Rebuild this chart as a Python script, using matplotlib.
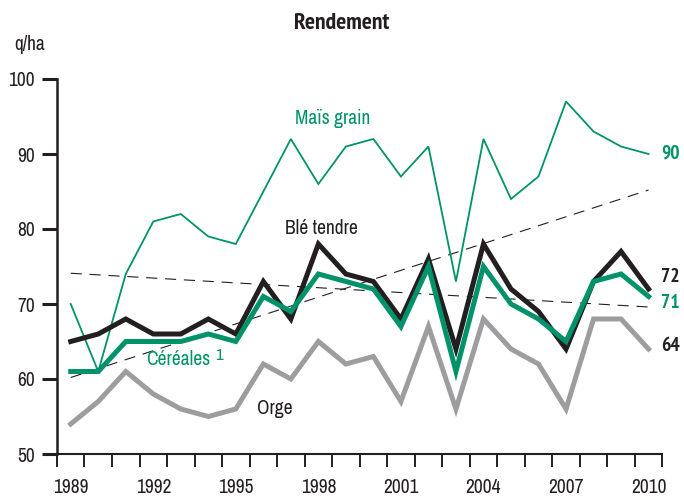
import matplotlib
matplotlib.use("Agg")
import matplotlib.pyplot as plt
from matplotlib import font_manager
from matplotlib.font_manager import FontProperties

years = list(range(1989, 2011))
mais = [70, 61, 74, 81, 82, 79, 78, 85, 92, 86, 91, 92, 87, 91, 73, 92, 84, 87, 97, 93, 91, 90]
ble = [65, 66, 68, 66, 66, 68, 66, 73, 68, 78, 74, 73, 68, 76, 64, 78, 72, 69, 64, 73, 77, 72]
cereales = [61, 61, 65, 65, 65, 66, 65, 71, 69, 74, 73, 72, 67, 75, 61, 75, 70, 68, 65, 73, 74, 71]
orge = [54, 57, 61, 58, 56, 55, 56, 62, 60, 65, 62, 63, 57, 67, 56, 68, 64, 62, 56, 68, 68, 64]
trend_years = [1989, 2010]
trend_up = [60.2, 85.2]
trend_down = [74.1, 69.6]
tick_years = [1989, 1992, 1995, 1998, 2001, 2004, 2007, 2010]
y_ticks = [50, 60, 70, 80, 90, 100]

# look for a condensed sans font, fall back to Liberation Sans
def find_font(bold=False):
    cands = []
    for f in font_manager.fontManager.ttflist:
        st = str(f.stretch).lower()
        nm = f.name.lower()
        cond = ('condensed' in st) or ('narrow' in nm) or ('condensed' in nm) or (isinstance(f.stretch, int) and f.stretch < 500)
        if not cond or f.style != 'normal':
            continue
        w = f.weight if isinstance(f.weight, int) else (700 if 'bold' in str(f.weight) else 400)
        if 'extra' in st or 'ultra' in st:
            continue
        if bold and w < 600:
            continue
        if not bold and not (350 <= w <= 500):
            continue
        pref = 0 if 'narrow' in nm else (1 if 'dejavu' in nm else 2)
        cands.append((pref, f.fname))
    cands.sort()
    return cands[0][1] if cands else None

reg_file = find_font(False)
bold_file = find_font(True)
def fp(size, bold=False):
    f = bold_file if bold else reg_file
    if f:
        return FontProperties(fname=f, size=size)
    return FontProperties(family=['Liberation Sans', 'DejaVu Sans'], size=size * 0.92,
                          weight='bold' if bold else 'normal')

GREEN = '#00936B'
BLACK = '#231F20'
GRAY = '#9D9D9F'

fig = plt.figure(figsize=(6.84, 5.00), dpi=100)
ax = fig.add_axes([0.0833, 0.092, 0.885, 0.750])

ax.plot(trend_years, trend_up, color=BLACK, lw=0.8, ls=(0, (10, 7)))
ax.plot(trend_years, trend_down, color=BLACK, lw=0.8, ls=(0, (10, 7)))
ax.plot(years, mais, color=GREEN, lw=1.3, solid_joinstyle='miter')
ax.plot(years, orge, color=GRAY, lw=3.6, solid_joinstyle='miter')
ax.plot(years, ble, color=BLACK, lw=3.6, solid_joinstyle='miter')
ax.plot(years, cereales, color=GREEN, lw=3.6, solid_joinstyle='miter')

ax.set_xlim(1988.5, 2010.5)
ax.set_ylim(50, 100)
ax.set_yticks(y_ticks)
ax.set_xticks(tick_years)
ax.set_xticks([y - 0.5 for y in years] + [2010.5], minor=True)
ax.tick_params(axis='x', which='major', length=0, pad=17, colors=BLACK)
ax.tick_params(axis='x', which='minor', length=9, width=1.4, direction='out', color=BLACK)
ax.tick_params(axis='y', length=11, width=2.2, direction='out', colors=BLACK, pad=5)
for lab in ax.get_xticklabels() + ax.get_yticklabels():
    lab.set_fontproperties(fp(14))
for s in ['top', 'right']:
    ax.spines[s].set_visible(False)
ax.spines['left'].set_linewidth(1.8)
ax.spines['left'].set_color(BLACK)
ax.spines['bottom'].set_linewidth(1.5)
ax.spines['bottom'].set_color(BLACK)

fig.text(0.5, 0.953, 'Rendement', ha='center', va='center', fontproperties=fp(17, True), color=BLACK)
fig.text(0.044, 0.911, 'q/ha', ha='center', va='center', fontproperties=fp(14), color=BLACK)

ax.text(1998.5, 94.7, 'Maïs grain', color=GREEN, fontproperties=fp(14), ha='center', va='center')
ax.text(1998.1, 80.0, 'Blé tendre', color=BLACK, fontproperties=fp(14), ha='center', va='center')
ax.text(1992.9, 62.6, 'Céréales', color=GREEN, fontproperties=fp(14), ha='center', va='center')
ax.annotate('1', xy=(1992.9, 62.6), xytext=(27, 3), textcoords='offset points',
            color=GREEN, fontproperties=fp(12), ha='left', va='center')
ax.text(1996.4, 56.1, 'Orge', color=BLACK, fontproperties=fp(14), ha='center', va='center')

end_offsets = [(mais, GREEN, 0), (ble, BLACK, 9), (cereales, GREEN, -5), (orge, BLACK, 2)]
for series, col, dy in end_offsets:
    ax.annotate(f'{series[-1]}', xy=(years[-1], series[-1]), xytext=(9, dy),
                textcoords='offset points', color=col, fontproperties=fp(14, True),
                ha='left', va='center', annotation_clip=False)

fig.savefig('out.png', dpi=100)
